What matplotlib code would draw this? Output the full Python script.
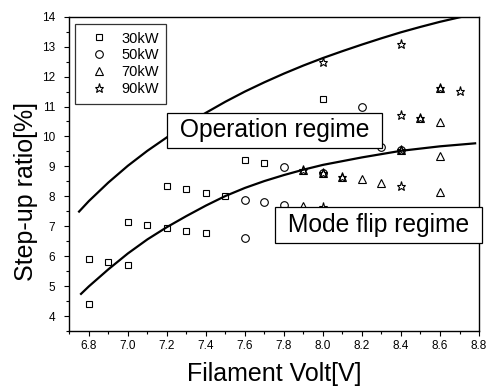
import matplotlib
matplotlib.use("Agg")
import matplotlib.pyplot as plt
from matplotlib.ticker import MultipleLocator

plt.rcParams['font.family'] = ['Liberation Sans', 'DejaVu Sans']

# ---- data ----
x_30 = [6.8, 6.8, 6.9, 7.0, 7.0, 7.1, 7.2, 7.2, 7.3, 7.3, 7.4, 7.4, 7.5, 7.6, 7.7, 8.0]
y_30 = [5.89, 4.41, 5.80, 5.72, 7.14, 7.05, 8.34, 6.93, 8.23, 6.85, 8.11, 6.76, 8.01, 9.21, 9.10, 11.26]

x_50 = [7.6, 7.6, 7.7, 7.8, 7.8, 8.0, 8.2, 8.3, 8.4]
y_50 = [6.62, 7.89, 7.80, 8.99, 7.72, 8.77, 10.99, 9.66, 9.55]

x_70 = [7.9, 7.9, 8.0, 8.1, 8.2, 8.3, 8.4, 8.5, 8.6, 8.6, 8.6, 8.6]
y_70 = [8.88, 7.67, 8.77, 8.64, 8.57, 8.44, 9.55, 10.62, 11.63, 10.49, 9.35, 8.15]

x_90 = [7.9, 8.0, 8.0, 8.0, 8.1, 8.4, 8.4, 8.4, 8.4, 8.5, 8.6, 8.7]
y_90 = [8.88, 12.50, 8.77, 7.63, 8.64, 13.09, 10.72, 9.55, 8.35, 10.62, 11.63, 11.51]

# fitted boundary curves
lower_x = [6.76, 6.8, 6.9, 7.0, 7.1, 7.2, 7.3, 7.4, 7.5, 7.6, 7.7, 7.8, 7.9, 8.0, 8.2, 8.4, 8.6, 8.78]
lower_y = [4.74, 4.99, 5.56, 6.09, 6.56, 6.97, 7.34, 7.69, 8.01, 8.28, 8.51, 8.71, 8.89, 9.05, 9.30, 9.52, 9.67, 9.77]
upper_x = [6.75, 6.8, 6.9, 7.0, 7.1, 7.2, 7.3, 7.4, 7.5, 7.6, 7.7, 7.8, 7.9, 8.0, 8.1, 8.2, 8.3, 8.4, 8.5, 8.6, 8.7, 8.8]
upper_y = [7.49, 7.84, 8.46, 9.02, 9.52, 9.97, 10.39, 10.79, 11.16, 11.50, 11.81, 12.10, 12.37, 12.62, 12.85, 13.07, 13.28, 13.48, 13.66, 13.83, 13.98, 14.12]

labels = ['30kW', '50kW', '70kW', '90kW']
xticks = [6.8, 7.0, 7.2, 7.4, 7.6, 7.8, 8.0, 8.2, 8.4, 8.6, 8.8]
yticks = [4, 5, 6, 7, 8, 9, 10, 11, 12, 13, 14]

# ---- figure ----
fig = plt.figure(figsize=(4.92, 3.87), dpi=100)
ax = fig.add_axes([0.1409, 0.1447, 0.8327, 0.8121])

mk = dict(linestyle='none', markerfacecolor='none', markeredgecolor='black',
          markeredgewidth=0.8)
ax.plot(x_30, y_30, marker='s', markersize=5, label=labels[0], **mk)
ax.plot(x_50, y_50, marker='o', markersize=5.5, label=labels[1], **mk)
ax.plot(x_70, y_70, marker='^', markersize=6, label=labels[2], **mk)
ax.plot(x_90, y_90, marker='*', markersize=6.5, label=labels[3], **mk)

ax.plot(lower_x, lower_y, color='black', linewidth=1.6, zorder=3)
ax.plot(upper_x, upper_y, color='black', linewidth=1.6, zorder=3)

ax.set_xlim(6.7, 8.8)
ax.set_ylim(3.5, 14)
ax.set_xticks(xticks)
ax.set_xticklabels([f'{v:.1f}' for v in xticks])
ax.set_yticks(yticks)
ax.xaxis.set_minor_locator(MultipleLocator(0.1))
ax.yaxis.set_minor_locator(MultipleLocator(0.5))
ax.tick_params(which='major', direction='out', length=3.6, width=0.8,
               labelsize=8.5, top=False, right=False)
ax.tick_params(axis='x', which='major', pad=3)
ax.tick_params(axis='y', which='major', pad=6.5)
ax.tick_params(which='minor', direction='out', length=2.0, width=0.8,
               top=False, right=False)
for s in ax.spines.values():
    s.set_linewidth(1.0)

ax.set_xlabel('Filament Volt[V]', fontsize=18, labelpad=7)
ax.set_ylabel('Step-up ratio[%]', fontsize=18)
ax.yaxis.set_label_coords(-0.076, 0.445)

leg = ax.legend(loc='upper left', bbox_to_anchor=(0.0146, 0.976), fontsize=10.5,
                frameon=True, fancybox=False, edgecolor='black',
                handlelength=2.2, handletextpad=0.45, labelspacing=0.2,
                borderpad=0.5, borderaxespad=0.0)
leg.get_frame().set_linewidth(0.9)

box = dict(boxstyle='square,pad=0.24', facecolor='white', edgecolor='black',
           linewidth=0.9)
ax.text(7.754, 10.20, ' Operation regime ', fontsize=17.7, ha='center',
        va='center', bbox=box, zorder=5)
ax.text(8.286, 7.03, ' Mode flip regime ', fontsize=17.7, ha='center',
        va='center', bbox=box, zorder=5, clip_on=False)

fig.savefig('out.png', dpi=100)
